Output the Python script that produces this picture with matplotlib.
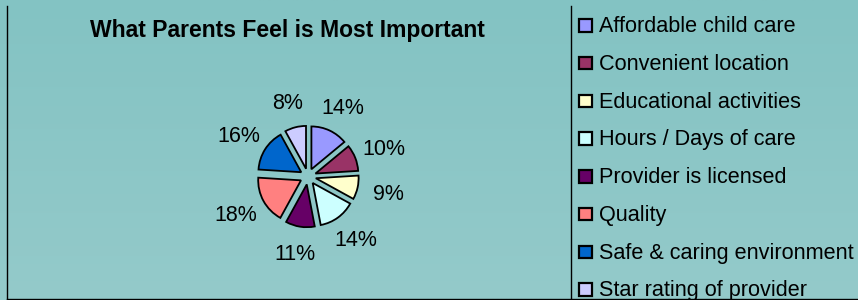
import numpy as np
import matplotlib.pyplot as plt
from matplotlib.patches import Rectangle

plt.rcParams['font.family'] = ['Liberation Sans', 'DejaVu Sans']

categories = ['Affordable child care', 'Convenient location', 'Educational activities',
              'Hours / Days of care', 'Provider is licensed', 'Quality',
              'Safe & caring environment', 'Star rating of provider']
shares = [14, 10, 9, 14, 11, 18, 16, 8]
colors = ['#9999FF', '#993366', '#FFFFCC', '#CCFFFF', '#660066', '#FF8080',
          '#0066CC', '#CCCCFF']

W, H = 858, 300
fig = plt.figure(figsize=(W / 100, H / 100), dpi=100)

# background gradient
bg = fig.add_axes([0, 0, 1, 1])
top = np.array([131, 195, 195]) / 255
bot = np.array([148, 202, 202]) / 255
t = np.linspace(0, 1, 100)[:, None]
grad = (top * (1 - t) + bot * t)[:, None, :].repeat(2, axis=1)
bg.imshow(grad, aspect='auto', extent=[0, W, H, 0])
bg.set_xlim(0, W)
bg.set_ylim(H, 0)
bg.axis('off')

# frame lines
bg.plot([7, 7], [6, 298.5], color='black', lw=1)
bg.plot([7, W], [298.5, 298.5], color='black', lw=1)
bg.plot([571, 571], [6, 298.5], color='black', lw=1)

bg.text(287, 37.5, 'What Parents Feel is Most Important', ha='center', va='baseline',
        fontsize=16.5, fontweight='bold')

# pie
cx, cy, size = 308, 176.5, 200
ax = fig.add_axes([(cx - size / 2) / W, 1 - (cy + size / 2) / H, size / W, size / H])
wedges, texts = ax.pie(shares, colors=colors, startangle=90, counterclock=False,
                       explode=[0.2] * len(shares), radius=1.07,
                       labels=[f'{v}%' for v in shares], labeldistance=1.62,
                       wedgeprops=dict(edgecolor='black', linewidth=1.3),
                       textprops=dict(fontsize=15.5, ha='center', va='center'))
for tx in texts:
    x, y = tx.get_position()
    tx.set_position((x * 1.06, y - 0.04))
    tx.set_ha('center')
ax.set_xlim(-2.5, 2.5)
ax.set_ylim(-2.5, 2.5)
ax.set_aspect('equal')
ax.axis('off')

# legend
y0, dy = 32, 37.75
for i, (name, col) in enumerate(zip(categories, colors)):
    y = y0 + i * dy
    bg.add_patch(Rectangle((579, y - 13), 12.5, 12.5, facecolor=col, edgecolor='black', lw=1.6))
    bg.text(599, y, name, ha='left', va='baseline', fontsize=15.6, clip_on=True)

fig.savefig('out.png', dpi=100)
